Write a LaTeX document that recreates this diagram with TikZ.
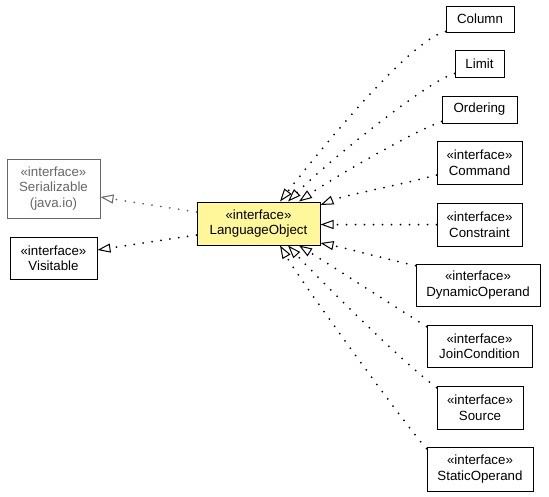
\documentclass[tikz,border=0pt]{standalone}
\usepackage{fontspec}
\setmainfont{Liberation Sans}
\usetikzlibrary{arrows.meta}
\definecolor{nodeyellow}{HTML}{FFF799}
\definecolor{greyline}{HTML}{666666}
\begin{document}
\begin{tikzpicture}[x=1pt,y=-1pt,
  box/.style={draw=black, line width=1pt, inner sep=0pt, align=center,
    font=\fontsize{13.3}{15.5}\selectfont},
  greybox/.style={box, draw=greyline, text=greyline},
  impl/.style={line width=2pt, dash pattern=on 0pt off 9pt, line cap=round,
    -{Triangle[length=13pt,width=9pt,line width=1pt,fill=white,line cap=butt]}},
  implgrey/.style={impl, draw=greyline}]
\useasboundingbox (0,0) rectangle (549,496);

\node[box, fill=nodeyellow, minimum width=123, minimum height=43] (lang) at (258.5,223.5) {«interface»\\LanguageObject};
\node[greybox, minimum width=93, minimum height=59] (ser) at (53.5,188.5) {«interface»\\Serializable\\(java.io)};
\node[box, minimum width=87, minimum height=42] (vis) at (53.5,258) {«interface»\\Visitable};

\node[box, minimum width=68, minimum height=26] (column) at (480,19) {Column};
\node[box, minimum width=49, minimum height=27] (limit) at (479.5,63.5) {Limit};
\node[box, minimum width=75, minimum height=27] (ordering) at (479.5,109.5) {Ordering};
\node[box, minimum width=85, minimum height=43] (command) at (479.5,162.5) {«interface»\\Command};
\node[box, minimum width=85, minimum height=43] (constraint) at (479.5,224.5) {«interface»\\Constraint};
\node[box, minimum width=124, minimum height=42] (dyn) at (478,285) {«interface»\\DynamicOperand};
\node[box, minimum width=105, minimum height=42] (join) at (479.5,346) {«interface»\\JoinCondition};
\node[box, minimum width=86, minimum height=43] (source) at (480,407.5) {«interface»\\Source};
\node[box, minimum width=106, minimum height=44] (static) at (480,469) {«interface»\\StaticOperand};

\draw[implgrey] ([yshift=11.5pt]lang.west) -- ([yshift=-8.5pt]ser.east);
\draw[impl] ([yshift=-11.5pt]lang.west) -- ([yshift=8pt]vis.east);

\draw[impl] ([yshift=1pt]column.south west) .. controls (410,40) and (320,150) .. ([xshift=21.5pt]lang.north);
\draw[impl] ([yshift=4pt]limit.south west) .. controls (430,80) and (335,155) .. ([xshift=29.5pt]lang.north);
\draw[impl] ([yshift=2pt]ordering.south west) .. controls (410,133) and (330,180) .. ([xshift=40.5pt]lang.north);
\draw[impl] ([yshift=-12.5pt]command.west) .. controls (400,185) and (345,195) .. ([yshift=18.5pt]lang.east);
\draw[impl] (constraint.west) -- ([yshift=-1pt]lang.east);
\draw[impl] ([yshift=-2pt]dyn.north west) .. controls (390,260) and (345,248) .. ([yshift=-19.5pt]lang.east);
\draw[impl] ([yshift=-2pt]join.north west) .. controls (400,310) and (330,265) .. ([xshift=40.5pt]lang.south);
\draw[impl] ([yshift=-2pt]source.north west) .. controls (405,365) and (315,275) .. ([xshift=29.5pt]lang.south);
\draw[impl] ([yshift=-2pt]static.north west) .. controls (405,425) and (300,280) .. ([xshift=21.5pt]lang.south);
\end{tikzpicture}
\end{document}
